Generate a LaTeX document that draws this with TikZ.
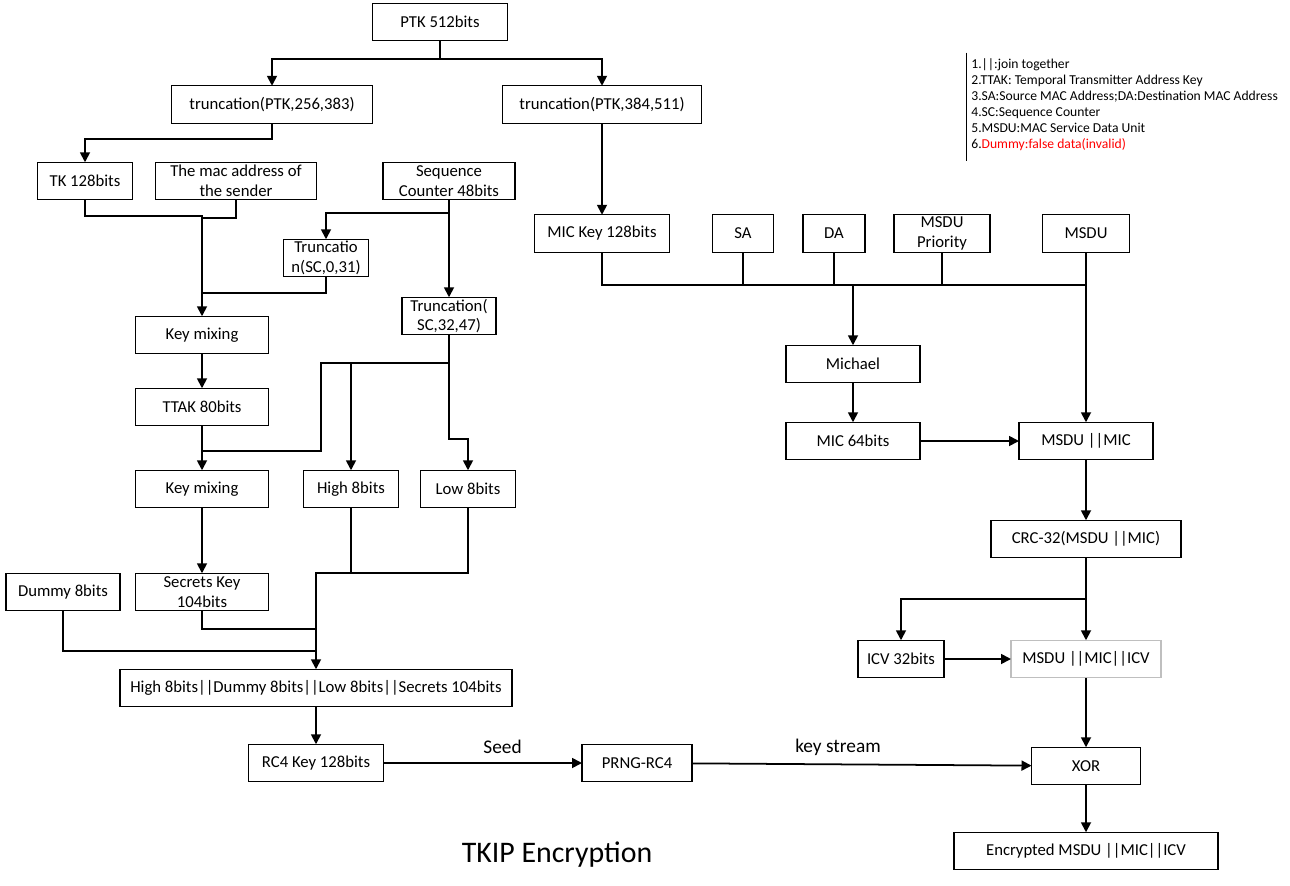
\documentclass[tikz,border=0pt]{standalone}
\usepackage{fontspec}
\setmainfont{Carlito}
\usepackage{tikz}
\usepackage{xcolor}
\usetikzlibrary{positioning, arrows.meta}

\begin{document}
\begin{tikzpicture}
[
box-a/.style={draw, line width=0.6pt, outer sep=0pt, minimum height=7.5mm, align=center, inner xsep=2pt, inner ysep=0.5pt, font=\fontsize{9.5}{11.3}\selectfont},
box-b/.style={box-a, draw=black!25},
line-a/.style={line width=1pt},
arrow-a/.style={line-a, -{Triangle[length=2mm, width=2mm]}},
text-a/.style={font=\fontsize{11}{13}\selectfont}
]
\useasboundingbox (0,0) rectangle (25.8,-17.72);
\node (ptk)      [box-a, minimum width=27mm]                                       at (8.8,-0.44) {PTK 512bits};
\node (trunc-a)  [box-a, minimum width=40.2mm, below = 9mm of ptk, xshift=-33.6mm] {truncation(PTK,256,383)};
\node (trunc-b)  [box-a, minimum width=39.8mm, right = 26mm of trunc-a]            {truncation(PTK,384,511)};
\node (tk)       [box-a, minimum width=19mm,   below = 7.8mm of trunc-a, xshift=-37.4mm] {TK 128bits};
\node (mac)      [box-a, minimum width=32.2mm, right = 4.6mm of tk]                {The mac address of\\the sender};
\node (seq)      [box-a, minimum width=26.4mm, right = 13.3mm of mac]              {Sequence\\Counter 48bits};
\node (trunc-lo) [box-a, minimum width=17mm,   below = 7.9mm of seq, xshift=-24.6mm]  {Truncatio\\n(SC,0,31)};
\node (trunc-hi) [box-a, minimum width=18.8mm, below = 19.5mm of seq]              {Truncation(\\SC,32,47)};
\node (mix-a)    [box-a, minimum width=26.6mm, below = 23.3mm of mac, xshift=-6.8mm]  {Key mixing};
\node (ttak)     [box-a, minimum width=26.6mm, below = 6.9mm of mix-a]             {TTAK 80bits};
\node (mix-b)    [box-a, minimum width=26.6mm, below = 8.9mm of ttak]              {Key mixing};
\node (high)     [box-a, minimum width=19mm,   right = 7mm of mix-b]               {High 8bits};
\node (low)      [box-a, minimum width=19mm,   right = 4.4mm of high]              {Low 8bits};
\node (secret)   [box-a, minimum width=26.6mm, below = 13.1mm of mix-b]            {Secrets Key\\104bits};
\node (dummy)    [box-a, minimum width=22.8mm, left = 3.1mm of secret]             {Dummy 8bits};
\node (concat)   [box-a, minimum width=78.4mm, below = 11.7mm of secret, xshift=22.8mm] {High 8bits||Dummy 8bits||Low 8bits||Secrets 104bits};
\node (rc4)      [box-a, minimum width=27mm,   below = 7.5mm of concat]            {RC4 Key 128bits};
\node (prng)     [box-a, minimum width=22mm,   right = 39.7mm of rc4]              {PRNG-RC4};
\node (xor)      [box-a, minimum width=21.8mm, right = 67.9mm of prng, yshift=-0.6mm] {XOR};
\node (enc)      [box-a, minimum width=52.8mm, below = 9.5mm of xor]               {Encrypted MSDU ||MIC||ICV};
\node (mmi)      [box-b, minimum width=30mm,   above = 13.9mm of xor]              {MSDU ||MIC||ICV};
\node (icv)      [box-a, minimum width=17.2mm, left = 13.4mm of mmi]               {ICV 32bits};
\node (crc)      [box-a, minimum width=38mm,   above = 16.5mm of mmi]              {CRC-32(MSDU ||MIC)};
\node (mm)       [box-a, minimum width=26.8mm, above = 12.1mm of crc]              {MSDU ||MIC};
\node (mic64)    [box-a, minimum width=26.8mm, left = 19.8mm of mm]                {MIC 64bits};
\node (michael)  [box-a, minimum width=26.8mm, above = 7.9mm of mic64]             {Michael};
\node (mickey)   [box-a, minimum width=27mm,   below = 18.3mm of trunc-b]          {MIC Key 128bits};
\node (sa)       [box-a, minimum width=12.2mm, right = 8.6mm of mickey]            {SA};
\node (da)       [box-a, minimum width=12.4mm, right = 5.9mm of sa]                {DA};
\node (prio)     [box-a, minimum width=19.2mm, right = 5.8mm of da]                {MSDU\\Priority};
\node (msdu)     [box-a, minimum width=17.4mm, right = 10.5mm of prio]             {MSDU};
\node (legend)   [anchor=north west, inner sep=0pt, align=left, font=\fontsize{7.75}{9.1}\selectfont] at (19.42,-1.17)
  {1.||:join together\\2.TTAK: Temporal Transmitter Address Key\\3.SA:Source MAC Address;DA:Destination MAC Address\\4.SC:Sequence Counter\\5.MSDU:MAC Service Data Unit\\6.\textcolor{red}{Dummy:false data(invalid)}};
\node (title)    [font=\fontsize{17}{20}\selectfont] at (11.14,-17.1) {TKIP Encryption};
\draw [line width=0.6pt] ([xshift=-0.9mm, yshift=1.2mm]legend.north west) -- ([xshift=-0.9mm, yshift=-2mm]legend.south west);
\draw [line-a]  (ptk.south) -- ++(0,-3.6mm) coordinate (ptk-j);
\draw [arrow-a] (ptk-j) -| (trunc-a.north);
\draw [arrow-a] (ptk-j) -| (trunc-b.north);
\draw [arrow-a] (trunc-a.south) -- ++(0,-3.2mm) -| (tk.north);
\draw [arrow-a] (trunc-b) -- (mickey);
\draw [arrow-a] (tk.south) -- ++(0,-3.3mm) -| (mix-a.north);
\draw [line-a]  (mac.south) -- ++(0,-3.7mm) coordinate (mac-j) -- (mac-j -| mix-a.north);
\draw [arrow-a] (seq.south) -- (trunc-hi.north);
\draw [arrow-a] (seq.south) -- ++(0,-2.7mm) -| (trunc-lo.north);
\draw [line-a]  (trunc-lo.south) -- ++(0,-3.3mm) coordinate (lo-j) -- (lo-j -| mix-a.north);
\draw [arrow-a] (mix-a) -- (ttak);
\draw [arrow-a] (ttak) -- (mix-b);
\draw [line-a]  (trunc-hi.south) -- ++(0,-5.7mm) coordinate (hi-j) -- ++(-25.6mm,0) |- ([yshift=-5mm]ttak.south);
\draw [arrow-a] (hi-j -| high.north) -- (high.north);
\draw [arrow-a] (trunc-hi.south) -- ++(0,-20.9mm) -| (low.north);
\draw [arrow-a] (mix-b) -- (secret);
\draw [line-a]  (high.south) -- ++(0,-13mm);
\draw [arrow-a] (low.south) -- ++(0,-13mm) -| (concat.north);
\draw [line-a]  (secret.south) -- ++(0,-3.6mm) coordinate (secret-j) -- (secret-j -| concat.north);
\draw [line-a]  (dummy.south) -- ++(0,-8mm) coordinate (dummy-j) -- (dummy-j -| concat.north);
\draw [arrow-a] (concat) -- (rc4);
\draw [arrow-a] (rc4) -- node [text-a, above=0.5mm, pos=0.6] {Seed} (prng);
\draw [arrow-a] (prng) -- node [text-a, above=0.5mm, pos=0.43] {key stream} (xor);
\coordinate (bus) at ([yshift=-6.6mm]mickey.south);
\draw [arrow-a] (mickey.south) -- (bus) -| (michael.north);
\draw [line-a]  (sa.south) -- (sa.south |- bus);
\draw [line-a]  (da.south) -- (da.south |- bus);
\draw [line-a]  (prio.south) -- (prio.south |- bus);
\draw [line-a]  (bus -| michael.north) -- (bus -| msdu.south);
\draw [arrow-a] (msdu.south) -- (msdu.south |- mm.north);
\draw [arrow-a] (michael) -- (mic64);
\draw [arrow-a] (mic64) -- (mm);
\draw [arrow-a] (mm) -- (crc);
\draw [arrow-a] (crc) -- (mmi);
\draw [line-a]  (crc.south) -- ++(0,-8.2mm) coordinate (crc-j);
\draw [arrow-a] (crc-j) -| (icv.north);
\draw [arrow-a] (icv) -- (mmi);
\draw [arrow-a] (mmi) -- (xor);
\draw [arrow-a] (xor) -- (enc);
\end{tikzpicture}
\end{document}
